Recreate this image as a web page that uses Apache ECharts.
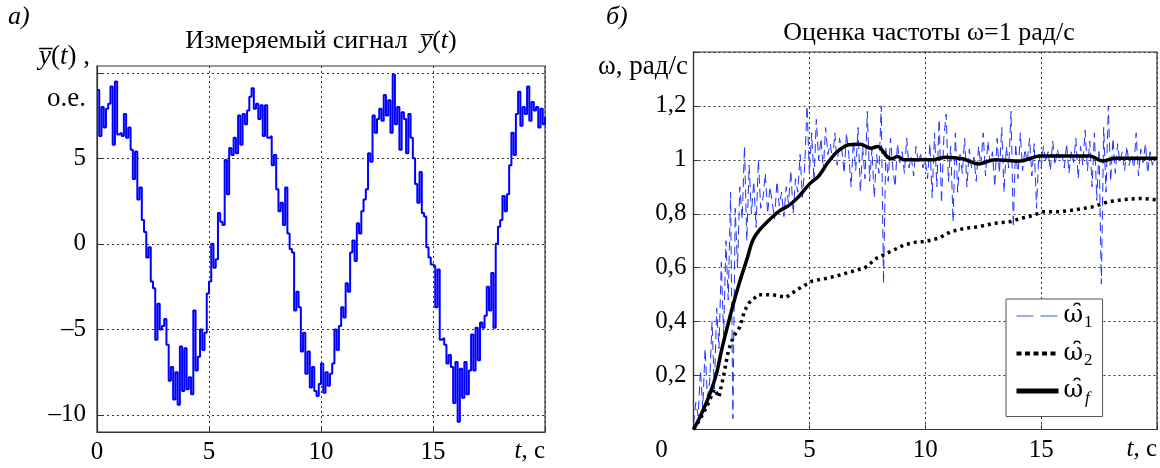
<!DOCTYPE html>
<html>
<head>
<meta charset="utf-8">
<script src="https://cdn.jsdelivr.net/npm/echarts@6/dist/echarts.min.js"></script>
<style>
html,body{margin:0;padding:0;background:#fff;}
#chart{width:1160px;height:468px;}
</style>
</head>
<body>
<div id="chart"></div>
<script>
// ---------- DATA ----------
const dt = 0.1; // sampling step of the recorded signals, s
// Panel a: measured signal y(t), t = 0..20 s step 0.1
const ySignal = [
  9.0, 6.3, 8.0, 6.8, 7.9, 8.2, 9.2, 5.8, 9.5, 6.4,
  6.5, 6.3, 7.6, 6.2, 6.8, 5.5, 3.8, 5.4, 2.6, 3.3,
  1.4, 0.7, -0.8, -0.2, -2.2, -2.6, -5.6, -3.5, -5.0, -4.8,
  -4.4, -5.9, -8.0, -7.2, -9.1, -7.5, -9.4, -6.0, -8.6, -6.1,
  -8.5, -7.8, -8.8, -3.9, -7.4, -6.6, -5.0, -6.2, -5.2, -2.9,
  -2.2, 0.0, -1.4, -0.9, 1.8, 1.3, 1.1, 4.9, 2.9, 5.6,
  5.2, 6.2, 5.3, 7.5, 5.8, 7.6, 7.0, 7.8, 8.6, 9.1,
  7.9, 8.2, 7.3, 8.1, 6.3, 8.1, 6.2, 6.3, 4.6, 5.2,
  3.2, 1.9, 2.4, 1.1, 3.3, 0.6, -0.3, -0.5, -3.9, -2.8,
  -3.7, -6.3, -5.2, -7.6, -6.3, -8.4, -7.2, -8.6, -8.9, -8.2,
  -7.0, -8.7, -7.5, -8.3, -7.6, -7.0, -5.0, -6.2, -4.8, -3.7,
  -4.3, -2.3, -2.8, -0.5, 0.2, -1.0, 1.2, 0.6, 1.9, 2.6,
  3.2, 5.3, 4.8, 7.5, 6.5, 7.3, 7.9, 7.2, 8.7, 7.5,
  8.4, 6.5, 9.9, 7.0, 8.0, 5.5, 7.7, 7.3, 5.3, 7.6,
  6.2, 5.0, 3.5, 2.4, 4.2, 1.8, 1.6, -0.2, -0.8, -1.2,
  -1.3, -3.7, -1.5, -5.6, -5.5, -5.9, -7.0, -6.5, -7.2, -9.3,
  -6.9, -10.4, -7.3, -9.0, -6.9, -8.8, -7.4, -5.3, -7.4, -4.9,
  -6.8, -4.6, -4.9, -4.2, -2.5, -3.9, -1.7, -4.9, 0.0, 1.0,
  1.4, 2.8, 1.9, 2.9, 4.6, 6.5, 5.2, 7.6, 8.9, 6.9,
  8.0, 7.6, 9.2, 7.2, 8.3, 7.8, 8.0, 6.8, 7.9, 7.0,
  7.4
];
// Panel b: omega_1 estimate (noisy), t = 0..20 s step 0.1
const omega1 = [
  0.02, 0.10, 0.05, 0.22, 0.08, 0.30, 0.12, 0.18, 0.40, 0.15,
  0.45, 0.30, 0.62, 0.35, 0.70, 0.48, 0.88, 0.04, 0.82, 0.60,
  0.90, 0.78, 1.05, 0.70, 0.98, 0.80, 0.92, 0.75, 1.00, 0.82,
  0.86, 0.95, 0.80, 0.90, 0.84, 0.78, 0.92, 0.83, 0.88, 0.79,
  0.90, 0.84, 0.96, 0.80, 0.93, 0.88, 1.02, 0.86, 0.98, 1.20,
  0.95, 1.10, 0.92, 1.15, 1.00, 1.08, 0.96, 1.12, 1.02, 1.06,
  1.00, 1.10, 0.98, 1.08, 1.04, 0.95, 1.10, 1.02, 0.90, 1.07,
  0.96, 1.12, 0.88, 1.05, 0.93, 1.18, 0.92, 1.04, 0.86, 1.02,
  0.95, 1.20, 0.54, 1.05, 0.92, 1.08, 0.97, 0.90, 1.06, 0.99,
  1.03, 0.95, 1.08, 0.97, 1.01, 0.94, 1.05, 0.99, 1.02, 0.97,
  1.00, 0.93, 1.06, 0.86, 1.10, 0.90, 1.15, 0.84, 1.08, 1.17,
  0.92, 1.05, 0.77, 1.10, 0.88, 1.02, 0.95, 1.08, 0.90, 1.04,
  0.97, 1.01, 0.92, 1.05, 0.98, 1.10, 0.94, 1.07, 0.99, 1.03,
  0.90, 1.08, 0.95, 1.12, 0.88, 1.05, 0.97, 1.18, 0.75, 1.06,
  0.93, 1.10, 0.96, 1.04, 0.99, 1.08, 0.94, 1.06, 0.82, 1.02,
  0.97, 1.05, 0.99, 1.03, 0.96, 1.07, 0.98, 1.04, 1.00, 1.02,
  0.97, 1.06, 0.95, 1.03, 0.99, 1.08, 0.93, 1.05, 0.98, 1.11,
  0.96, 1.07, 0.90, 1.10, 0.85, 1.04, 0.54, 1.12, 0.88, 1.20,
  0.92, 1.08, 0.95, 1.06, 0.99, 1.03, 0.96, 1.05, 0.98, 1.02,
  0.97, 1.10, 0.94, 1.04, 0.99, 1.06, 0.95, 1.03, 0.98, 1.01,
  1.00
];
// omega_2 estimate: [t, value]
const omega2 = [
  [0, 0.0], [0.3, 0.04], [0.6, 0.09], [0.9, 0.15], [1.1, 0.12], [1.3, 0.20],
  [1.5, 0.29], [1.7, 0.34], [2.0, 0.38], [2.2, 0.44], [2.4, 0.47], [2.8, 0.50],
  [3.4, 0.50], [4.0, 0.49], [4.5, 0.52], [5.1, 0.55], [5.7, 0.56], [6.2, 0.57],
  [6.8, 0.585], [7.4, 0.60], [7.9, 0.635], [8.5, 0.66], [9.1, 0.685], [9.6, 0.695],
  [10.0, 0.697], [10.6, 0.71], [11.1, 0.734], [11.7, 0.746], [12.3, 0.752], [13.0, 0.765],
  [13.7, 0.771], [14.1, 0.783], [14.5, 0.79], [15.1, 0.808], [15.8, 0.808], [16.5, 0.815],
  [17.3, 0.827], [17.9, 0.845], [18.5, 0.852], [19.3, 0.857], [20.0, 0.852]
];
// filtered estimate omega_f: [t, value]
const omegaF = [
  [0, 0.0], [0.3, 0.05], [0.7, 0.13], [1.0, 0.21], [1.2, 0.29], [1.4, 0.36],
  [1.7, 0.46], [2.0, 0.55], [2.3, 0.63], [2.55, 0.70], [2.85, 0.74], [3.3, 0.78],
  [3.7, 0.81], [4.1, 0.83], [4.5, 0.86], [5.0, 0.91], [5.4, 0.94], [5.8, 0.99],
  [6.2, 1.03], [6.7, 1.056], [7.2, 1.058], [7.65, 1.043], [7.95, 1.05], [8.35, 1.012],
  [8.55, 1.004], [8.8, 1.012], [9.1, 1.0], [9.7, 1.0], [10.3, 1.0], [10.9, 1.01],
  [11.6, 1.004], [12.3, 0.985], [13.0, 1.0], [14.1, 0.996], [14.95, 1.014], [15.8, 1.014],
  [17.1, 1.014], [17.65, 0.996], [18.2, 1.006], [20.0, 1.006]
];
const yTicksA = [-10, -5, 0, 5, 10];

// ---------- BUILD ----------
const F = '"Liberation Serif","DejaVu Serif",serif';
const FH = '"DejaVu Serif",serif';
const FS = 25;
const pairs = arr => arr.map((v, i) => [Math.round(i * dt * 10) / 10, v]);

const grid = {color: '#333', width: 1, type: [2, 3]};
function xAxisCfg(gi, zeroShift) {
  return {
    type: 'value', gridIndex: gi, min: 0, max: 20, interval: 5,
    axisLine: {show: true, onZero: false, lineStyle: {color: '#333', width: 1.2}},
    axisTick: {show: true, inside: true, length: 5, lineStyle: {color: '#333'}},
    splitLine: {show: true, lineStyle: grid},
    axisLabel: {
      color: '#000', fontFamily: F, fontSize: FS, margin: 8,
      formatter: v => v === 20 ? '' : (v === 0 && zeroShift ? '{z|0}' : String(v)),
      rich: {z: {fontFamily: F, fontSize: FS, color: '#000', padding: [0, 64, 0, 0]}}
    },
    name: '{i|t}, с', nameLocation: 'end', nameGap: 0,
    nameTextStyle: {
      fontFamily: F, fontSize: FS, color: '#000', align: 'right', verticalAlign: 'top',
      padding: [7, 0, 0, 0],
      rich: {i: {fontFamily: F, fontSize: FS, fontStyle: 'italic', color: '#000'}}
    }
  };
}

const option = {
  animation: false,
  backgroundColor: '#fff',
  grid: [
    {left: 97, top: 66, width: 448, height: 366, show: true, borderColor: '#333', borderWidth: 1.2, backgroundColor: 'transparent'},
    {left: 693.5, top: 52, width: 469.5, height: 377.5, show: true, borderColor: '#333', borderWidth: 1.2, backgroundColor: 'transparent'}
  ],
  xAxis: [xAxisCfg(0, false), xAxisCfg(1, true)],
  yAxis: [
    {
      type: 'value', gridIndex: 0, min: -11, max: 10.4, interval: 5,
      axisLine: {show: true, lineStyle: {color: '#333', width: 1.2}},
      axisTick: {show: true, inside: true, length: 5, customValues: yTicksA, lineStyle: {color: '#333'}},
      splitLine: {show: true, lineStyle: grid},
      axisLabel: {
        color: '#000', fontFamily: F, fontSize: FS, margin: 11,
        customValues: yTicksA,
        formatter: v => v === 10 ? '' : String(v).replace('-', '–')
      }
    },
    {
      type: 'value', gridIndex: 1, min: 0, max: 1.4, interval: 0.2,
      axisLine: {show: true, lineStyle: {color: '#333', width: 1.2}},
      axisTick: {show: true, inside: true, length: 5, lineStyle: {color: '#333'}},
      splitLine: {show: true, lineStyle: grid},
      axisLabel: {
        color: '#000', fontFamily: F, fontSize: FS, margin: 7,
        formatter: v => {
          const r = Math.round(v * 10) / 10;
          if (r === 0 || r === 1.4) return '';
          return String(r).replace('.', ',');
        }
      }
    }
  ],
  legend: {
    orient: 'vertical', left: 1006, top: 299,
    data: [
      {name: 'w1', lineStyle: {color: '#3355ff', width: 1.2, type: [17, 7]}},
      {name: 'w2', lineStyle: {color: '#000', width: 4, type: [5, 3.5]}},
      {name: 'wf', lineStyle: {color: '#000', width: 5}}
    ],
    backgroundColor: '#fff', borderColor: '#555', borderWidth: 1,
    padding: [5, 10, 9, 8], itemGap: 10, itemWidth: 42, itemHeight: 16,
    itemStyle: {opacity: 0},
    textStyle: {
      fontFamily: F, fontSize: FS, color: '#000',
      rich: {
        w: {fontFamily: FH, fontSize: 24, color: '#000'},
        s: {fontFamily: F, fontSize: 17, color: '#000', padding: [14, 0, 0, 1]},
        f: {fontFamily: F, fontSize: 17, fontStyle: 'italic', color: '#000', padding: [16, 0, 0, 2]}
      }
    },
    formatter: n => n === 'w1' ? '{w|ω\u0311}{s|1}' : n === 'w2' ? '{w|ω\u0311}{s|2}' : '{w|ω\u0311}{f|f}'
  },
  title: [
    {
      text: 'Измеряемый сигнал  {o|y\u0305}({i|t})', left: 321, top: 28, textAlign: 'center', padding: 0,
      textStyle: {fontFamily: F, fontSize: 26, fontWeight: 'normal', color: '#000',
        rich: {o: {fontFamily: F, fontSize: 26, fontStyle: 'italic', color: '#000'},
               i: {fontFamily: F, fontSize: 26, fontStyle: 'italic', color: '#000'}}}
    },
    {
      text: 'Оценка частоты ω=1 рад/с', left: 929, top: 20, textAlign: 'center', padding: 0,
      textStyle: {fontFamily: F, fontSize: 26, fontWeight: 'normal', color: '#000'}
    }
  ],
  graphic: [
    {type: 'text', left: 8, top: 4, style: {text: 'а)', font: 'italic 26px ' + F, fill: '#000'}},
    {type: 'text', left: 606, top: 4, style: {text: 'б)', font: 'italic 26px ' + F, fill: '#000'}},
    {type: 'text', right: 1160 - 90, top: 43, style: {
      text: '{o|y\u0305}({i|t}) ,', font: '27px ' + F, fill: '#000', align: 'right',
      rich: {o: {font: 'italic 27px ' + F, fill: '#000'}, i: {font: 'italic 27px ' + F, fill: '#000'}}}},
    {type: 'text', right: 1160 - 86, top: 85, style: {text: 'о.е.', font: '27px ' + F, fill: '#000', align: 'right'}},
    {type: 'text', right: 1160 - 688, top: 53, style: {text: 'ω, рад/с', font: '27px ' + F, fill: '#000', align: 'right'}}
  ],
  series: [
    {
      type: 'line', xAxisIndex: 0, yAxisIndex: 0, data: pairs(ySignal), showSymbol: false, symbol: 'none',
      step: 'end', lineStyle: {color: '#0000ff', width: 2}, silent: true
    },
    {
      name: 'w1', type: 'line', xAxisIndex: 1, yAxisIndex: 1, data: pairs(omega1), showSymbol: false, symbol: 'none',
      itemStyle: {color: '#2233ff'},
      lineStyle: {color: '#2233ff', width: 1, type: [9, 5]}, silent: true
    },
    {
      name: 'w2', type: 'line', xAxisIndex: 1, yAxisIndex: 1, data: omega2, showSymbol: false, symbol: 'none',
      itemStyle: {color: '#000'},
      lineStyle: {color: '#000', width: 3.5, type: [3, 4]}, silent: true
    },
    {
      name: 'wf', type: 'line', xAxisIndex: 1, yAxisIndex: 1, data: omegaF, showSymbol: false, symbol: 'none',
      itemStyle: {color: '#000'}, smooth: 0.3,
      lineStyle: {color: '#000', width: 3.5}, silent: true
    }
  ]
};

const chart = echarts.init(document.getElementById('chart'), null, {renderer: 'canvas'});
chart.setOption(option);
</script>
</body>
</html>
